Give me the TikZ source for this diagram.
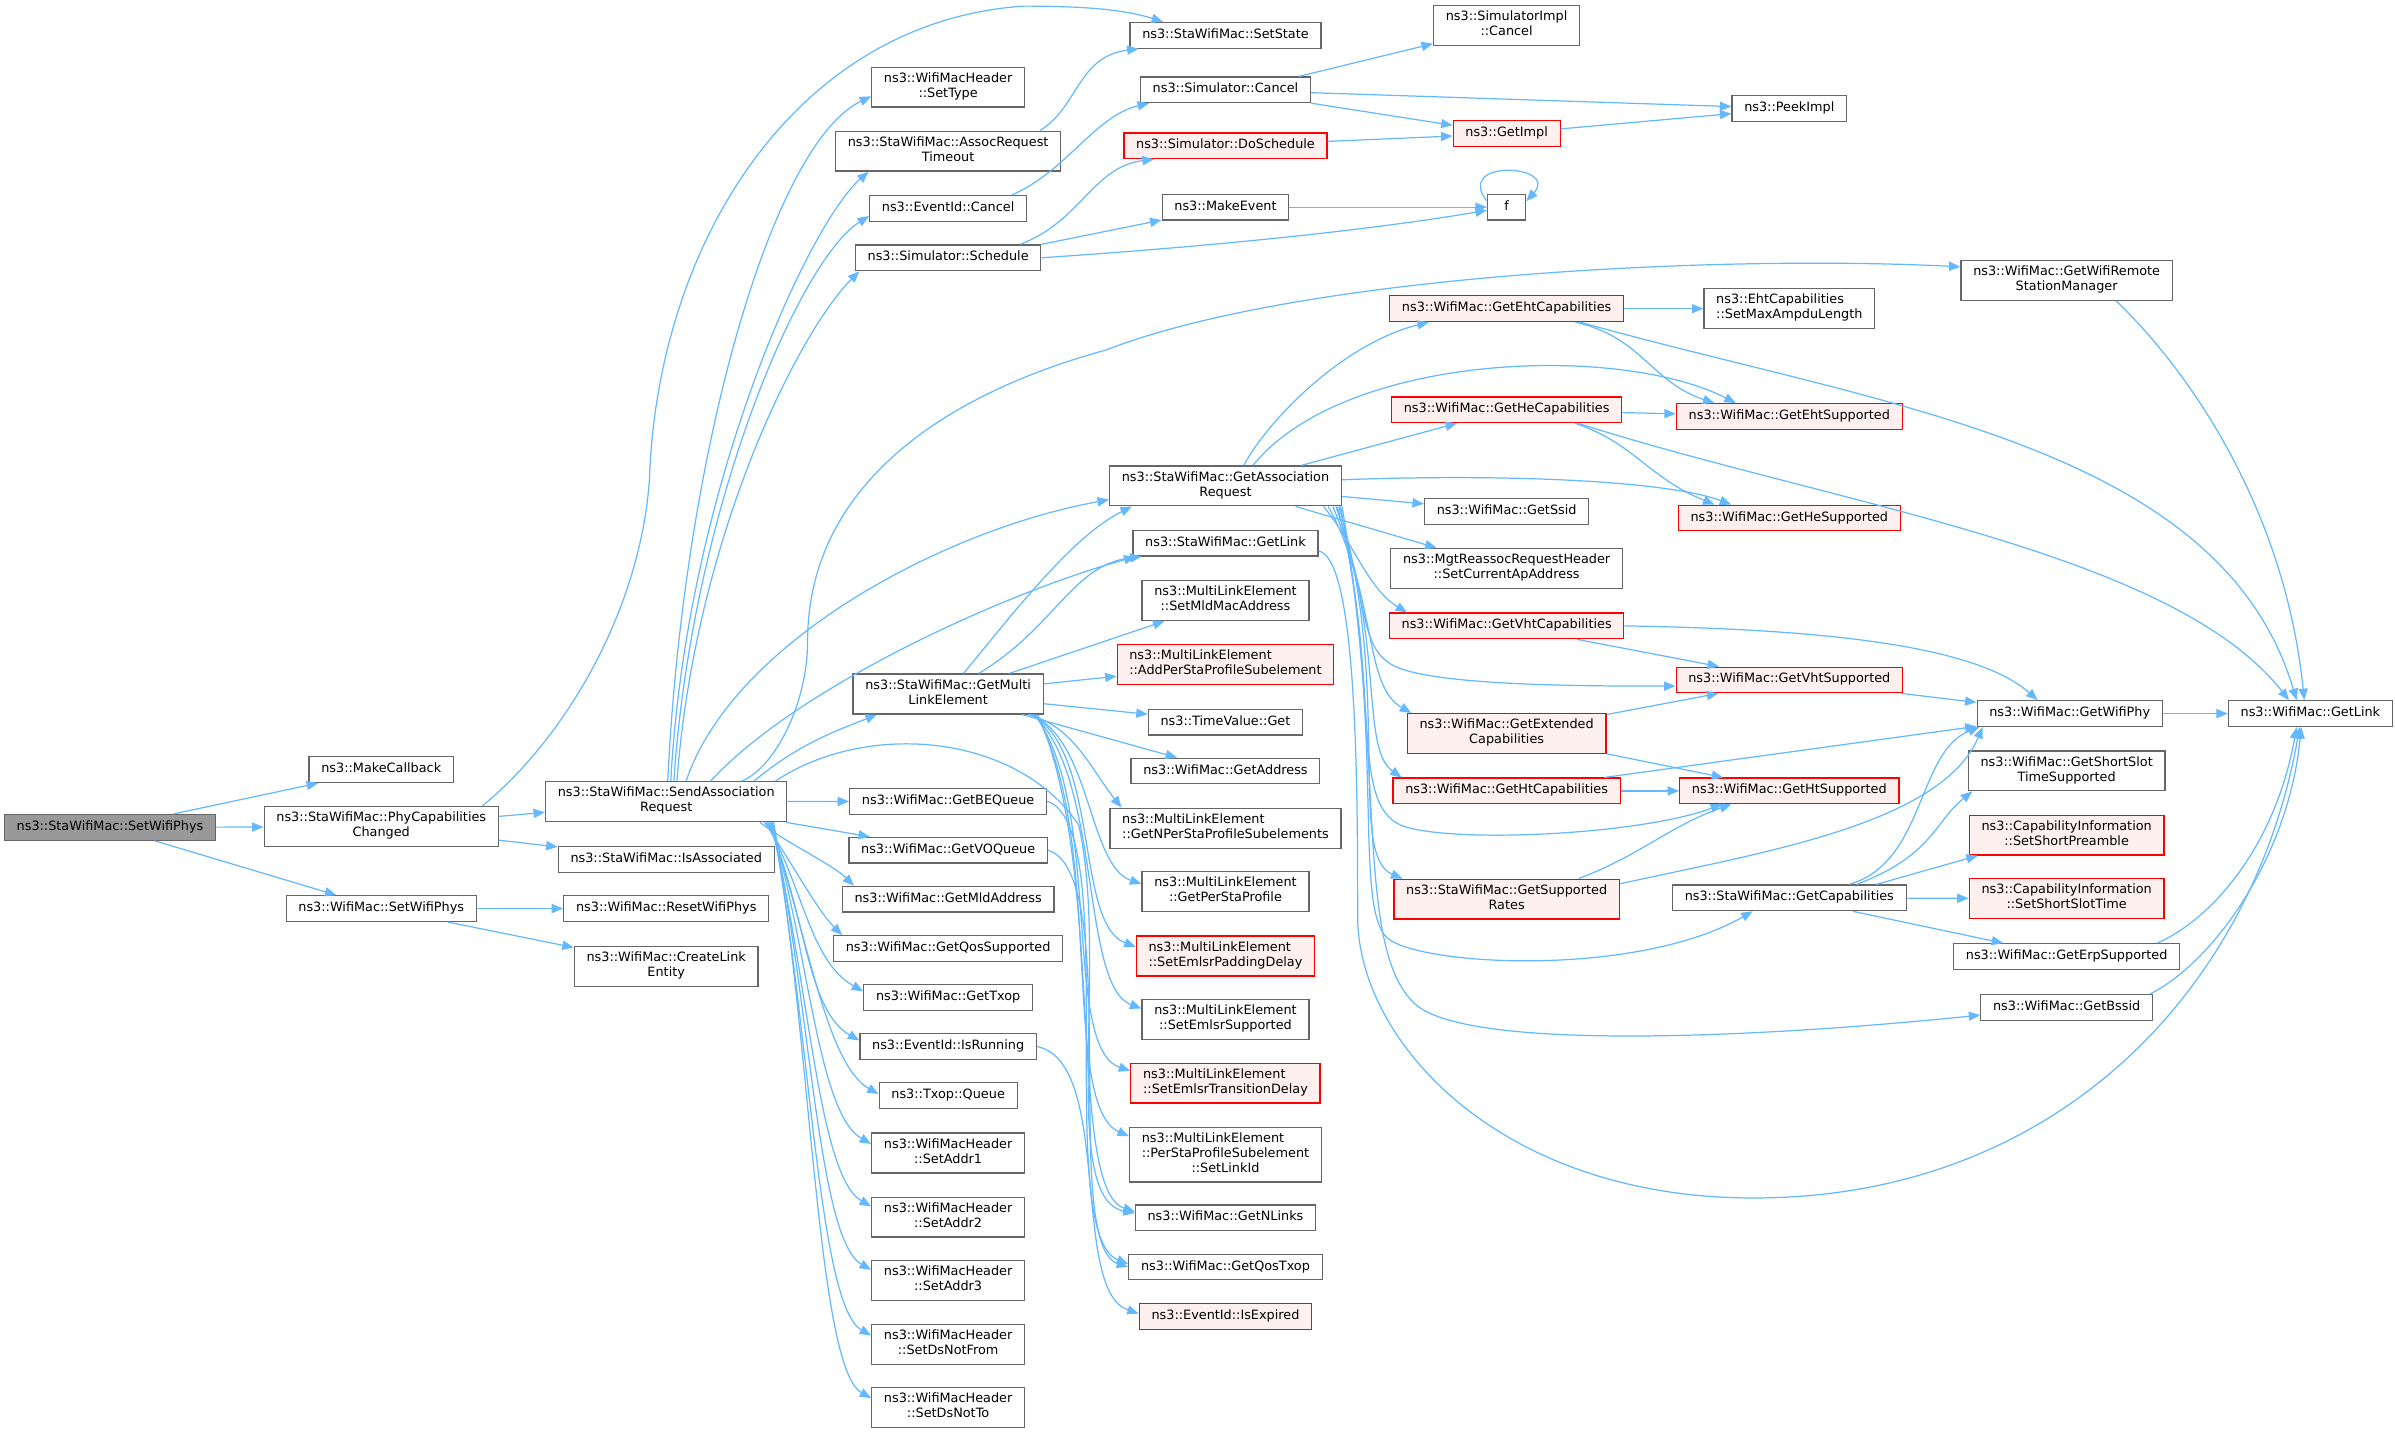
\documentclass[tikz,border=0pt]{standalone}
\usepackage{fontspec}
\setmainfont{DejaVu Sans}
\usetikzlibrary{arrows.meta}
\definecolor{callblue}{HTML}{63B8FF}
\definecolor{framegray}{HTML}{666666}
\definecolor{rootgray}{HTML}{999999}
\definecolor{truncpink}{HTML}{FFF0F0}
\begin{document}
\begin{tikzpicture}
  [x=1pt, y=-1pt,
   fn/.style={draw=framegray, fill=white, line width=0.8pt,
     font=\fontsize{8.4}{9.8}\selectfont, inner xsep=8pt, inner ysep=3.5pt,
     align=center, execute at begin node=\strut, execute at end node=\strut},
   fn root/.style={fn, fill=rootgray},
   fn trunc/.style={fn, draw=red, fill=truncpink},
   call/.style={draw=callblue, line width=0.8pt,
     -{Triangle[length=7.5pt, width=6pt]}}]
\useasboundingbox (0,0) rectangle (1567.4,940.2);

% caller and first calls
\node[fn root] (root) at (72,541.5) {ns3::StaWifiMac::SetWifiPhys};
\node[fn] (mkcb) at (249.5,503.7) {ns3::MakeCallback};
\node[fn] (pcc) at (249.5,541) {ns3::StaWifiMac::PhyCapabilities\\Changed};
\node[fn] (setphys) at (249.5,594.6) {ns3::WifiMac::SetWifiPhys};
\node[fn] (sar) at (436,524.7) {ns3::StaWifiMac::SendAssociation\\Request};
\node[fn] (isassoc) at (436,562.4) {ns3::StaWifiMac::IsAssociated};
\node[fn] (resetphys) at (436,594.6) {ns3::WifiMac::ResetWifiPhys};
\node[fn] (createlink) at (436,632.3) {ns3::WifiMac::CreateLink\\Entity};

% third column
\node[fn] (settype) at (620.5,57) {ns3::WifiMacHeader\\::SetType};
\node[fn] (assocto) at (620.5,98.9) {ns3::StaWifiMac::AssocRequest\\Timeout};
\node[fn] (evcancel) at (620.5,136.4) {ns3::EventId::Cancel};
\node[fn] (schedule) at (620.5,168.7) {ns3::Simulator::Schedule};
\node[fn] (getmle) at (620.5,454.2) {ns3::StaWifiMac::GetMulti\\LinkElement};
\node[fn] (bequeue) at (620.5,524.4) {ns3::WifiMac::GetBEQueue};
\node[fn] (voqueue) at (620.5,556.4) {ns3::WifiMac::GetVOQueue};
\node[fn] (mldaddr) at (620.5,588.5) {ns3::WifiMac::GetMldAddress};
\node[fn] (qossup) at (620.5,620.8) {ns3::WifiMac::GetQosSupported};
\node[fn] (gettxop) at (620.5,652.8) {ns3::WifiMac::GetTxop};
\node[fn] (isrunning) at (620.5,684.9) {ns3::EventId::IsRunning};
\node[fn] (txopq) at (620.5,717) {ns3::Txop::Queue};
\node[fn] (addr1) at (620.5,754.6) {ns3::WifiMacHeader\\::SetAddr1};
\node[fn] (addr2) at (620.5,796.5) {ns3::WifiMacHeader\\::SetAddr2};
\node[fn] (addr3) at (620.5,838) {ns3::WifiMacHeader\\::SetAddr3};
\node[fn] (dsnotfrom) at (620.5,880) {ns3::WifiMacHeader\\::SetDsNotFrom};
\node[fn] (dsnotto) at (620.5,921) {ns3::WifiMacHeader\\::SetDsNotTo};

% fourth column
\node[fn] (setstate) at (802,23.1) {ns3::StaWifiMac::SetState};
\node[fn] (simcancel) at (802,58.8) {ns3::Simulator::Cancel};
\node[fn trunc] (dosched) at (802,95.4) {ns3::Simulator::DoSchedule};
\node[fn] (mkevent) at (802,135.6) {ns3::MakeEvent};
\node[fn] (gar) at (802,318) {ns3::StaWifiMac::GetAssociation\\Request};
\node[fn] (stalink) at (802,355.5) {ns3::StaWifiMac::GetLink};
\node[fn] (setmld) at (802,393) {ns3::MultiLinkElement\\::SetMldMacAddress};
\node[fn trunc, align=left] (addpersta) at (802,435) {ns3::MultiLinkElement\\::AddPerStaProfileSubelement};
\node[fn] (timeget) at (802,472.6) {ns3::TimeValue::Get};
\node[fn] (getaddr) at (802,504.6) {ns3::WifiMac::GetAddress};
\node[fn, align=left] (getnper) at (802,542) {ns3::MultiLinkElement\\::GetNPerStaProfileSubelements};
\node[fn] (getpersta) at (802,583.5) {ns3::MultiLinkElement\\::GetPerStaProfile};
\node[fn trunc, align=left] (padding) at (802,625.6) {ns3::MultiLinkElement\\::SetEmlsrPaddingDelay};
\node[fn] (emlsrsup) at (802,667) {ns3::MultiLinkElement\\::SetEmlsrSupported};
\node[fn trunc, align=left] (transdelay) at (802,708.8) {ns3::MultiLinkElement\\::SetEmlsrTransitionDelay};
\node[fn] (setlinkid) at (802,755.6) {\rlap{ns3::MultiLinkElement}\phantom{::PerStaProfileSubelement}\\::PerStaProfileSubelement\\::SetLinkId};
\node[fn] (nlinks) at (802,797) {ns3::WifiMac::GetNLinks};
\node[fn] (qostxop) at (802,829.2) {ns3::WifiMac::GetQosTxop};
\node[fn trunc] (isexpired) at (802,861.6) {ns3::EventId::IsExpired};

% fifth column
\node[fn] (implcancel) at (986,16.9) {ns3::SimulatorImpl\\::Cancel};
\node[fn trunc] (getimpl) at (986,87.5) {ns3::GetImpl};
\node[fn, minimum width=25pt] (fnode) at (986,135.6) {f};
\node[fn trunc] (ehtcap) at (986,202) {ns3::WifiMac::GetEhtCapabilities};
\node[fn trunc] (hecap) at (986,268.2) {ns3::WifiMac::GetHeCapabilities};
\node[fn] (getssid) at (986,334.6) {ns3::WifiMac::GetSsid};
\node[fn] (setcurap) at (986,372) {ns3::MgtReassocRequestHeader\\::SetCurrentApAddress};
\node[fn trunc] (vhtcap) at (986,409.6) {ns3::WifiMac::GetVhtCapabilities};
\node[fn trunc] (extcap) at (986,480) {ns3::WifiMac::GetExtended\\Capabilities};
\node[fn trunc] (htcap) at (986,517.6) {ns3::WifiMac::GetHtCapabilities};
\node[fn trunc] (suprates) at (986,588.4) {ns3::StaWifiMac::GetSupported\\Rates};

% sixth column
\node[fn] (peekimpl) at (1171,71) {ns3::PeekImpl};
\node[fn, align=left] (setmaxampdu) at (1171,202) {ns3::EhtCapabilities\\::SetMaxAmpduLength};
\node[fn trunc] (ehtsup) at (1171,272.6) {ns3::WifiMac::GetEhtSupported};
\node[fn trunc] (hesup) at (1171,339) {ns3::WifiMac::GetHeSupported};
\node[fn trunc] (vhtsup) at (1171,445) {ns3::WifiMac::GetVhtSupported};
\node[fn trunc] (htsup) at (1171,517.6) {ns3::WifiMac::GetHtSupported};
\node[fn] (getcaps) at (1171,587.6) {ns3::StaWifiMac::GetCapabilities};

% last columns
\node[fn] (gwrsm) at (1352.5,183.6) {ns3::WifiMac::GetWifiRemote\\StationManager};
\node[fn] (wifiphy) at (1354.5,467) {ns3::WifiMac::GetWifiPhy};
\node[fn] (shortslot) at (1352.5,504.5) {ns3::WifiMac::GetShortSlot\\TimeSupported};
\node[fn trunc] (shortpre) at (1352.5,546.5) {ns3::CapabilityInformation\\::SetShortPreamble};
\node[fn trunc] (shortslottime) at (1352.5,588) {ns3::CapabilityInformation\\::SetShortSlotTime};
\node[fn] (erpsup) at (1352.5,626) {ns3::WifiMac::GetErpSupported};
\node[fn] (bssid) at (1352.5,659.3) {ns3::WifiMac::GetBssid};
\node[fn] (getlink) at (1512,467) {ns3::WifiMac::GetLink};

% calls from the left part
\draw[call] (root) -- (mkcb);
\draw[call] (root) -- (pcc);
\draw[call] (root) -- (setphys);
\draw[call] (pcc) -- (sar);
\draw[call] (pcc) -- (isassoc);
\draw[call] ([xshift=-11pt]pcc.north east) .. controls +(55,-45) and +(-6,85) .. (425,314)
  .. controls +(5,-154) and +(-150,10) .. (670,4) .. controls +(40,0) and +(-25,-8) .. ([xshift=22pt]setstate.north west);
\draw[call] (setphys) -- (resetphys);
\draw[call] (setphys) -- (createlink);

% top group
\draw[call] ([xshift=-14pt]assocto.north east) .. controls +(25,-15) and +(-40,5) .. ([xshift=6pt]setstate.south west);
\draw[call] ([xshift=-10pt]evcancel.north east) .. controls +(35,-15) and +(-35,8) .. ([xshift=6pt]simcancel.south west);
\draw[call] ([xshift=-14pt]schedule.north east) .. controls +(40,-15) and +(-40,5) .. ([xshift=20pt]dosched.south west);
\draw[call] (schedule.north east) -- (mkevent);
\draw[call] (schedule.east) .. controls +(120,-8) and +(-70,12) .. ([yshift=-2pt]fnode.west);
\draw[call] (mkevent) -- (fnode);
\draw[call] ([yshift=4pt]fnode.west) .. controls +(-22,-28) and +(22,-24) .. ([yshift=4pt]fnode.east);
\draw[call] ([xshift=-8pt]simcancel.north east) -- (implcancel);
\draw[call] (simcancel) -- (peekimpl);
\draw[call] (simcancel) -- (getimpl);
\draw[call] (dosched) -- (getimpl);
\draw[call] (getimpl) -- (peekimpl);

% SendAssociationRequest
\draw[call] ([xshift=1pt]sar.north) .. controls +(10,-211) and +(-66,32) .. ([yshift=-6pt]settype.west);
\draw[call] ([xshift=3pt]sar.north) .. controls +(10,-190) and +(-40,35) .. ([xshift=22pt]assocto.south west);
\draw[call] ([xshift=5pt]sar.north) .. controls +(12,-180) and +(-45,28) .. ([yshift=-5pt]evcancel.west);
\draw[call] ([xshift=7pt]sar.north) .. controls +(12,-160) and +(-40,40) .. ([xshift=3pt]schedule.south west);
\draw[call] ([xshift=-30pt]sar.north east) .. controls +(22,-9) and +(0,40) .. (528.5,420)
  .. controls +(0,-100) and +(-110,30) .. (724,229) .. controls +(126,-49) and +(-160,-8) .. ([yshift=9pt]gwrsm.west);
\draw[call] ([xshift=13pt]sar.north) .. controls +(30,-90) and +(-110,20) .. ([yshift=-9pt]gar.west);
\draw[call] ([xshift=29pt]sar.north) .. controls +(55,-60) and +(-90,25) .. ([xshift=2pt]stalink.south west);
\draw[call] ([xshift=-22pt]sar.north east) .. controls +(30,-25) and +(-25,10) .. ([xshift=16pt]getmle.south west);
\draw[call] ([xshift=-8pt]sar.north east) .. controls +(60,-40) and +(-40,-60) .. (706,540)
  .. controls +(20,90) and +(-50,-10) .. ([yshift=3pt]nlinks.west);
\draw[call] (sar) -- (bequeue);
\draw[call] (sar) -- (voqueue);
\draw[call] ([xshift=-18pt]sar.south east) .. controls +(18,14) and +(-14,-14) .. ([xshift=8pt]mldaddr.north west);
\draw[call] ([xshift=-15pt]sar.south east) .. controls +(20,30) and +(-16,-16) .. ([xshift=6pt]qossup.north west);
\draw[call] ([xshift=-14pt]sar.south east) .. controls +(25,44) and +(-35,-20) .. ([yshift=4pt]gettxop.west);
\draw[call] ([xshift=-13pt]sar.south east) .. controls +(25,57) and +(-35,-20) .. ([yshift=4pt]isrunning.west);
\draw[call] ([xshift=-12pt]sar.south east) .. controls +(25,71) and +(-35,-20) .. ([yshift=1pt]txopq.west);
\draw[call] ([xshift=-11pt]sar.south east) .. controls +(25,84) and +(-35,-20) .. ([yshift=6pt]addr1.west);
\draw[call] ([xshift=-11pt]sar.south east) .. controls +(25,101) and +(-35,-20) .. ([yshift=7pt]addr2.west);
\draw[call] ([xshift=-10pt]sar.south east) .. controls +(25,117) and +(-35,-20) .. ([yshift=7pt]addr3.west);
\draw[call] ([xshift=-10pt]sar.south east) .. controls +(25,134) and +(-35,-20) .. ([yshift=6pt]dsnotfrom.west);
\draw[call] ([xshift=-9pt]sar.south east) .. controls +(25,151) and +(-35,-20) .. ([yshift=6pt]dsnotto.west);

% GetMultiLinkElement
\draw[call] ([xshift=10pt]getmle.north) .. controls +(30,-36) and +(-40,20) .. ([xshift=15pt]gar.south west);
\draw[call] ([xshift=20pt]getmle.north) .. controls +(50,-30) and +(-45,5) .. ([xshift=6pt]stalink.south west);
\draw[call] (getmle) -- (setmld);
\draw[call] (getmle) -- (addpersta);
\draw[call] (getmle) -- (timeget);
\draw[call] (getmle) -- (getaddr);
\draw[call] ([xshift=-10pt]getmle.south east) .. controls +(30,8) and +(-20,-25) .. ([xshift=8pt]getnper.north west);
\draw[call] ([xshift=-9pt]getmle.south east) .. controls +(40,15) and +(-35,-12) .. ([yshift=5pt]getpersta.west);
\draw[call] ([xshift=-8pt]getmle.south east) .. controls +(45,25) and +(-40,-15) .. ([yshift=6pt]padding.west);
\draw[call] ([xshift=-7pt]getmle.south east) .. controls +(45,40) and +(-40,-15) .. ([yshift=7pt]emlsrsup.west);
\draw[call] ([xshift=-6pt]getmle.south east) .. controls +(45,60) and +(-45,-15) .. ([yshift=8pt]transdelay.west);
\draw[call] ([xshift=-5pt]getmle.south east) .. controls +(45,80) and +(-45,-20) .. ([yshift=12pt]setlinkid.west);
\draw[call] ([xshift=-4pt]getmle.south east) .. controls +(45,100) and +(-45,-15) .. ([yshift=4pt]nlinks.west);
\draw[call] (bequeue.east) .. controls +(50,15) and +(-50,-20) .. ([yshift=2pt]qostxop.west);
\draw[call] (voqueue.east) .. controls +(50,15) and +(-45,-15) .. (qostxop.west);
\draw[call] (isrunning.east) .. controls +(50,10) and +(-45,-15) .. ([yshift=2pt]isexpired.west);

% GetAssociationRequest
\draw[call] ([xshift=12pt]gar.north) .. controls +(16,-30) and +(-56,14) .. ([xshift=26pt]ehtcap.south west);
\draw[call] ([xshift=18pt]gar.north) .. controls +(60,-74) and +(-76,-39) .. ([xshift=-35pt]ehtsup.north);
\draw[call] (gar) -- (hecap);
\draw[call] ([yshift=4pt]gar.east) .. controls +(103,-4) and +(-43,-16) .. ([xshift=-38pt]hesup.north);
\draw[call] (gar) -- (getssid);
\draw[call] (gar) -- (setcurap);
\draw[call] ([xshift=-12pt]gar.south east) .. controls +(20,25) and +(-25,-15) .. ([xshift=12pt]vhtcap.north west);
\draw[call] ([xshift=-9pt]gar.south east) .. controls +(30,54) and +(-30,-12) .. (915,437)
  .. controls +(30,12) and +(-54,0) .. ([yshift=-4pt]vhtsup.west);
\draw[call] ([xshift=-6pt]gar.south east) .. controls +(29,69) and +(-30,-17) .. ([xshift=3pt]extcap.north west);
\draw[call] ([xshift=-4pt]gar.south east) .. controls +(32,89) and +(-27,-19) .. ([xshift=6pt]htcap.north west);
\draw[call] ([xshift=-3pt]gar.south east) .. controls +(31,119) and +(-41,-11) .. (921,541.5)
  .. controls +(39,10.5) and +(-51,19) .. ([xshift=-44pt]htsup.south);
\draw[call] ([xshift=-2pt]gar.south east) .. controls +(35,119) and +(-36,-15) .. ([xshift=6pt]suprates.north west);
\draw[call] ([xshift=-1pt]gar.south east) .. controls +(29,149) and +(-21,-23) .. (907,613)
  .. controls +(18,19) and +(-77,44) .. ([xshift=-24pt]getcaps.south);
\draw[call] (gar.south east) .. controls +(29,169) and +(-40,-37) .. (926,657)
  .. controls +(34,31) and +(-146,15) .. ([yshift=-5pt]bssid.west);

% capability helpers
\draw[call] (ehtcap) -- (setmaxampdu);
\draw[call] ([xshift=-32pt]ehtcap.south east) .. controls +(44,10) and +(-42,-14) .. ([xshift=-49pt]ehtsup.north);
\draw[call] ([xshift=-29pt]ehtcap.south east) .. controls +(196,55) and +(-50,-168) .. ([xshift=-9pt]getlink.north);
\draw[call] (hecap) -- (ehtsup);
\draw[call] ([xshift=-31pt]hecap.south east) .. controls +(39,13) and +(-44,-18) .. ([xshift=-49pt]hesup.north);
\draw[call] ([xshift=-29pt]hecap.south east) .. controls +(166,53) and +(-77,-98) .. ([xshift=-14pt]getlink.north);
\draw[call] (vhtcap.east) .. controls +(117,2) and +(-43,-38) .. ([xshift=-21pt]wifiphy.north);
\draw[call] (vhtcap) -- (vhtsup);
\draw[call] (vhtsup) -- (wifiphy);
\draw[call] (extcap) -- (vhtsup);
\draw[call] (extcap) -- (htsup);
\draw[call] (htcap) -- (htsup);
\draw[call] (htcap) -- (wifiphy);
\draw[call] ([xshift=-27pt]suprates.north east) .. controls +(40,-15) and +(-40,14) .. ([xshift=-38pt]htsup.south);
\draw[call] ([yshift=10pt]suprates.east) .. controls +(90,-20) and +(-27,64) .. ([xshift=4pt]wifiphy.south west);
\draw[call] ([xshift=39pt]getcaps.north) .. controls +(50,-14) and +(-41,16) .. ([xshift=2pt]wifiphy.south west);
\draw[call] ([xshift=44pt]getcaps.north) .. controls +(50,-19) and +(-25,20) .. ([xshift=3pt]shortslot.south west);
\draw[call] ([xshift=-20pt]getcaps.north east) -- ([xshift=6pt]shortpre.south west);
\draw[call] (getcaps) -- (shortslottime);
\draw[call] (getcaps) -- (erpsup);

% into GetLink
\draw[call] (wifiphy) -- (getlink);
\draw[call] ([xshift=-37pt]gwrsm.south east) .. controls +(45,43) and +(-13,-128) .. ([xshift=-4pt]getlink.north);
\draw[call] ([xshift=-15pt]erpsup.north east) .. controls +(40,-18) and +(-13,73) .. ([xshift=-9pt]getlink.south);
\draw[call] ([xshift=-2pt]bssid.north east) .. controls +(42,-21) and +(-8,84) .. ([xshift=-6pt]getlink.south);
\draw[call] ([yshift=-5pt]stalink.east) .. controls +(25,5) and +(0,-90) .. (888.5,600)
  .. controls +(0,80) and +(-168,0) .. (1147.6,784) .. controls +(200,0) and +(-30,170) .. ([xshift=-7pt]getlink.south);
\end{tikzpicture}
\end{document}
